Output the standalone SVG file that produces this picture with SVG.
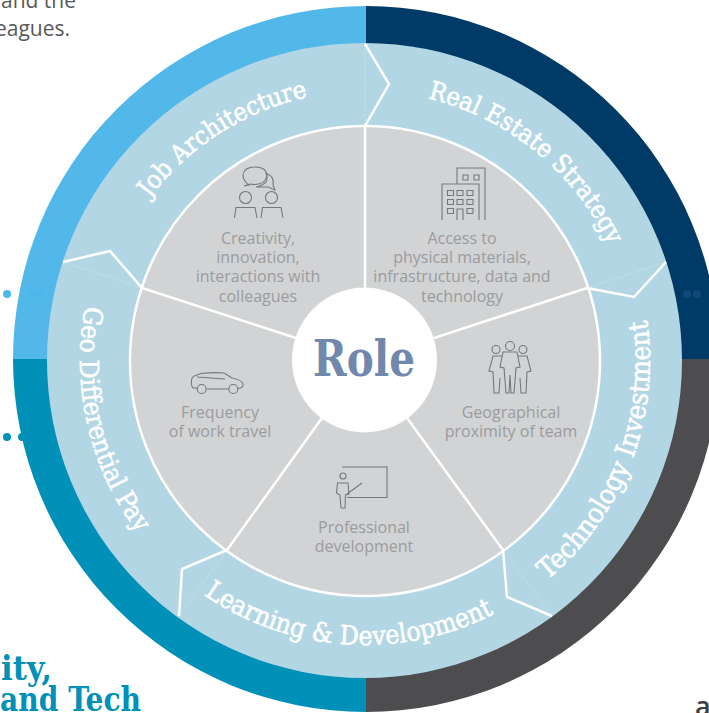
<svg xmlns="http://www.w3.org/2000/svg" width="709" height="713" viewBox="0 0 709 713">
<style>
.slab{font-family:"DejaVu Serif Condensed","DejaVu Serif","Liberation Serif",serif}
.lab{fill:#fff;font-weight:400;stroke:#fff;stroke-width:.55}
.cap{font-family:"Open Sans","Noto Sans",sans-serif;font-size:16px;fill:#9b9c9f;text-anchor:middle}
.ic{fill:none;stroke:#77787b;stroke-width:1.1}
.sp{fill:none;stroke:#fff;stroke-width:2.5}
.fa{fill:none;stroke:#d4e6ef;stroke-width:.6;stroke-dasharray:2 1}
</style>
<defs>
<path id="pJob" d="M107.4 280.3A270 270 0 0 1 399.8 93.2"/>
<path id="pReal" d="M360.3 91A270 270 0 0 1 630 309.5"/>
<path id="pTech" d="M503.2 610.3A285 285 0 0 0 634.5 268.2"/>
<path id="pLearn" d="M168.6 566.2A284 284 0 0 0 532.9 590"/>
<path id="pGeo" d="M111 231.6A285 285 0 0 0 193.5 588.6"/>
</defs>
<rect width="709" height="713" fill="#fff"/>
<g id="context-text">
<text x="76" y="8" text-anchor="end" font-family="Open Sans,sans-serif" font-size="21" fill="#58595b">and the</text>
<text x="70" y="36" text-anchor="end" font-family="Open Sans,sans-serif" font-size="21" fill="#58595b">eagues.</text>
<text x="52" y="680" text-anchor="end" class="slab" font-size="34" font-weight="700" fill="#0090b8">ity,</text>
<text x="0" y="711" class="slab" font-size="34" font-weight="700" fill="#0090b8" textLength="141" lengthAdjust="spacingAndGlyphs">and Tech</text>
<text x="695" y="716" font-family="Open Sans,sans-serif" font-size="27" font-weight="600" fill="#3f4042">a</text>
</g>
<g id="outer-ring">
<path d="M366 359V6A353 353 0 0 0 13 359Z" fill="#52b8ea"/>
<path d="M366 359V6A353 353 0 0 1 719 359Z" fill="#003a66"/>
<path d="M366 359V712A353 353 0 0 1 13 359Z" fill="#0090b8"/>
<path d="M366 359V712A353 353 0 0 0 719 359Z" fill="#4d4d4f"/>
</g>
<g id="dots">
<circle cx="7" cy="294" r="4" fill="#4fb9e9"/>
<circle cx="31" cy="294" r="4" fill="#4bb7ec"/>
<circle cx="40" cy="294" r="4" fill="#4bb7ec"/>
<circle cx="7" cy="437" r="4" fill="#0090b8"/>
<circle cx="22" cy="437" r="4" fill="#0090b8"/>
<circle cx="687" cy="294" r="4" fill="#0d4a78"/>
<circle cx="697" cy="294" r="4" fill="#0d4a78"/>
</g>
<circle id="band" cx="364.5" cy="360.5" r="317.5" fill="#b3d6e5"/>
<g id="connectors">
<path class="fa" d="M365 44V126M63 262L142 288M666 262L587 288M552 616L503 550M179 616L227 550"/>
<path class="sp" d="M365 44L389 84L365 126"/>
<path class="sp" d="M63 262L110 251L142 288"/>
<path class="sp" d="M666 262L634 297L587 288"/>
<path class="sp" d="M552 616L507 597L503 550"/>
<path class="sp" d="M179 616L182 569L227 550"/>
</g>
<g id="labels" class="slab">
<text class="lab" font-size="25.500"><textPath href="#pJob" startOffset="50%" text-anchor="middle">Job Architecture</textPath></text>
<text class="lab" font-size="25.500"><textPath href="#pReal" startOffset="50%" text-anchor="middle">Real Estate Strategy</textPath></text>
<text class="lab" font-size="27.500"><textPath href="#pTech" startOffset="50%" text-anchor="middle">Technology Investment</textPath></text>
<text class="lab" font-size="26.500"><textPath href="#pLearn" startOffset="50%" text-anchor="middle">Learning &amp; Development</textPath></text>
<text class="lab" font-size="26.200"><textPath href="#pGeo" startOffset="50%" text-anchor="middle">Geo Differential Pay</textPath></text>
</g>
<circle id="core" cx="365" cy="361" r="235" fill="#d1d3d4" stroke="#fff" stroke-width="2.5"/>
<g id="spokes"><path class="sp" d="M365 126V290M142 288L296 338M587 288L434 338M503 550L407 418M227 550L322 418"/></g>
<g id="node-creativity">
<path class="ic" d="M249 185Q243 181 243 175Q244 167 255 167Q266 167 267 175Q266 184 255 184.500Q252 184.500 250 184L244 186Z"/>
<path class="ic" d="M266 173Q275 177 273 185L275 190L268 187L256 187Q262 186 266 182Q268 178 266 173Z"/>
<circle class="ic" cx="245.500" cy="197.500" r="6"/><circle class="ic" cx="271.500" cy="197.500" r="6"/>
<path class="ic" d="M234.500 218L236 207.500H255L257 218M261 218L262.500 207.500H281L283 218"/>
<text class="cap" x="258" y="243.500">Creativity,</text>
<text class="cap" x="258" y="263">innovation,</text>
<text class="cap" x="258" y="282">interactions with</text>
<text class="cap" x="258" y="301.500">colleagues</text>
</g>
<g id="node-access">
<path class="ic" d="M442 220V184H457V168H485V220M457 184H479V220"/>
<path class="ic" d="M463 175h5v5h-5zM474 175h5v5h-5zM447.500 190.500h6v5h-6zM457 190.500h6v5h-6zM467 190.500h6v5h-6zM447.500 199.500h6v5h-6zM457 199.500h6v5h-6zM467 199.500h6v5h-6zM447.500 208.500h6v5h-6zM467 208.500h6v5h-6zM457 220V209H463V220"/>
<text class="cap" x="462" y="243.500">Access to</text>
<text class="cap" x="462" y="263">physical materials,</text>
<text class="cap" x="462" y="282">infrastructure, data and</text>
<text class="cap" x="462" y="301.500">technology</text>
</g>
<g id="node-proximity">
<circle class="ic" cx="510" cy="346" r="4.500"/><circle class="ic" cx="496" cy="349.500" r="4"/><circle class="ic" cx="523" cy="349.500" r="4"/>
<path class="ic" d="M503 352H517L520 367L516 368L514 393H511L510 375L509 393H506L504 368L500 367Z"/>
<path class="ic" d="M502 356H493L489 371L493 372L494 393H499L500 378M518 356H527L531 371L527 372L526 393H521L520 378"/>
<text class="cap" x="511" y="418">Geographical</text>
<text class="cap" x="511" y="437">proximity of team</text>
</g>
<g id="node-development">
<path class="ic" d="M342 467H387V497.500H347M387 466V498"/>
<circle class="ic" cx="343" cy="476" r="3"/>
<path class="ic" d="M337.500 483H348L349 494L345.500 495L345 508H341L340 495L336.500 493ZM347 494L362 483"/>
<text class="cap" x="364" y="533">Professional</text>
<text class="cap" x="364" y="552">development</text>
</g>
<g id="node-travel">
<path class="ic" d="M197 388H193Q191 386 191.500 380Q192 376 197 375L201 373.500Q215 372 224 373L232 378Q242 380 243 384Q243.500 388 238 388.500M206.500 389H228.500M197 377L225 379"/>
<circle class="ic" cx="201.700" cy="389" r="4.500"/><circle class="ic" cx="233.300" cy="389" r="4.500"/>
<text class="cap" x="220" y="418">Frequency</text>
<text class="cap" x="220" y="437">of work travel</text>
</g>
<g id="node-role">
<circle cx="364.500" cy="360" r="72.500" fill="#fff"/>
<text x="364" y="376" text-anchor="middle" font-family="DejaVu Serif,serif" font-size="50" font-weight="700" fill="#7088ab" textLength="102" lengthAdjust="spacingAndGlyphs">Role</text>
</g>
</svg>
